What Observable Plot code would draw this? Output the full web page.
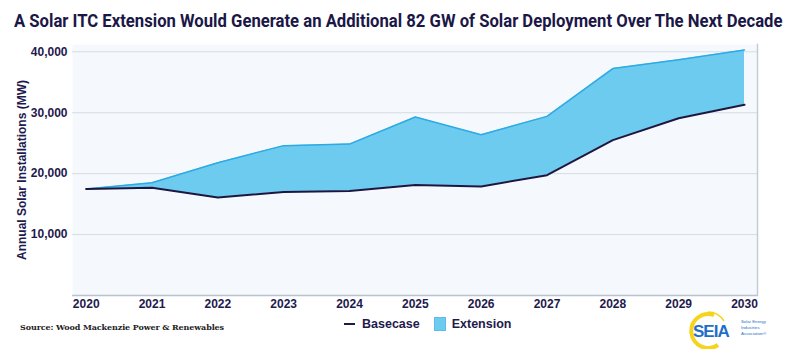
<!DOCTYPE html>
<html>
<head>
<meta charset="utf-8">
<script src="https://cdn.jsdelivr.net/npm/d3@7"></script>
<script src="https://cdn.jsdelivr.net/npm/@observablehq/plot@0.6"></script>
<style>
  html, body { margin: 0; padding: 0; background: #ffffff; }
  body { width: 800px; height: 350px; overflow: hidden; position: relative; font-family: "Liberation Sans", Arial, sans-serif; }
  #title { position: absolute; left: 14px; top: 9px; white-space: nowrap; font-family: Roboto, "Liberation Sans", sans-serif; font-weight: bold; font-size: 19px; line-height: 24px; color: #1b1747; transform: scaleX(0.877); transform-origin: 0 0; }
  #chart { position: absolute; left: 0; top: 38px; }
  #source { position: absolute; left: 20px; top: 322px; font-family: "DejaVu Serif", "Liberation Serif", serif; font-weight: bold; font-size: 8px; color: #222; letter-spacing: -0.1px; }
  #legend { position: absolute; left: 344px; top: 317px; display: flex; align-items: center; font-weight: bold; font-size: 12.5px; color: #1e1a4d; }
  #legend .item { display: flex; align-items: center; margin-right: 8px; }
  #legend .line { width: 11px; height: 2px; background: #1e1a4d; margin-right: 7px; }
  #legend .swatch { width: 12px; height: 14px; background: #6ecbf0; border: 1px solid #5bbde8; box-sizing: border-box; margin-right: 6px; }
  #logo { position: absolute; left: 684px; top: 309px; }
</style>
</head>
<body>
<div id="title">A Solar ITC Extension Would Generate an Additional 82 GW of Solar Deployment Over The Next Decade</div>
<div id="chart"></div>
<div id="source">Source: Wood Mackenzie Power &amp; Renewables</div>
<div id="legend">
  <div class="item"><div class="line"></div><span>Basecase</span></div>
  <div class="item" style="margin-left:6px"><div class="swatch"></div><span>Extension</span></div>
</div>
<svg id="logo" width="92" height="40">
  <path d="M 30 6 A 17 17 0 1 0 34 36" fill="none" stroke="#f6d31c" stroke-width="4"/>
  <path d="M 24 3 A 19 19 0 0 1 40 12" fill="none" stroke="#f6d31c" stroke-width="1.5"/>
  <text x="9" y="28" font-family="'Liberation Sans', Arial, sans-serif" font-weight="bold" font-size="17" fill="#1f6fc6" letter-spacing="-1">SEIA</text>
  <text x="57" y="14" font-family="'Liberation Sans', Arial, sans-serif" font-size="4.3" fill="#1f6fc6">Solar Energy</text>
  <text x="57" y="20" font-family="'Liberation Sans', Arial, sans-serif" font-size="4.3" fill="#1f6fc6">Industries</text>
  <text x="57" y="26" font-family="'Liberation Sans', Arial, sans-serif" font-size="4.3" fill="#1f6fc6">Association®</text>
</svg>
<script>
const years = [2020, 2021, 2022, 2023, 2024, 2025, 2026, 2027, 2028, 2029, 2030];
const basecase = [17500, 17700, 16100, 17000, 17150, 18150, 17900, 19750, 25500, 29100, 31300];
const extension = [17500, 18500, 21800, 24600, 24850, 29300, 26400, 29400, 37250, 38700, 40300];
const yTicks = [10000, 20000, 30000, 40000];

const data = years.map((year, i) => ({year, base: basecase[i], ext: extension[i]}));
const ink = "#1e1a4d";

const chart = Plot.plot({
  width: 800,
  height: 274,
  marginLeft: 72,
  marginRight: 43,
  marginTop: 6,
  marginBottom: 17,
  style: {fontFamily: "'Liberation Sans', Arial, sans-serif", fontSize: "12px", fontWeight: "bold", color: ink, background: "transparent"},
  x: {domain: [2020, 2030], range: [85.7, 744]},
  y: {domain: [0, 41200]},
  marks: [
    Plot.frame({fill: "#f5f9fd", stroke: null}),
    Plot.gridY(yTicks, {stroke: "#d5dce4", strokeOpacity: 1, strokeWidth: 1}),
    Plot.ruleY([0], {stroke: "#b9c4cf", strokeWidth: 1.5}),
    Plot.frame({anchor: "right", stroke: "#c3ccd6", strokeWidth: 1.5}),
    Plot.areaY(data, {x: "year", y1: "base", y2: "ext", fill: "#6ecbf0", fillOpacity: 1}),
    Plot.lineY(data, {x: "year", y: "ext", stroke: "#2eaae3", strokeWidth: 1.5}),
    Plot.lineY(data, {x: "year", y: "base", stroke: "#1d1640", strokeWidth: 2}),
    Plot.axisX(years, {tickSize: 0, tickPadding: 4, tickFormat: d => String(d), label: null, fill: ink}),
    Plot.axisY(yTicks, {tickSize: 0, tickPadding: 5, tickFormat: d3.format(","), fill: ink,
      label: "Annual Solar Installations (MW)", labelAnchor: "center", labelArrow: "none", labelOffset: 55, fontSize: 12})
  ]
});
document.getElementById("chart").appendChild(chart);
</script>
</body>
</html>
